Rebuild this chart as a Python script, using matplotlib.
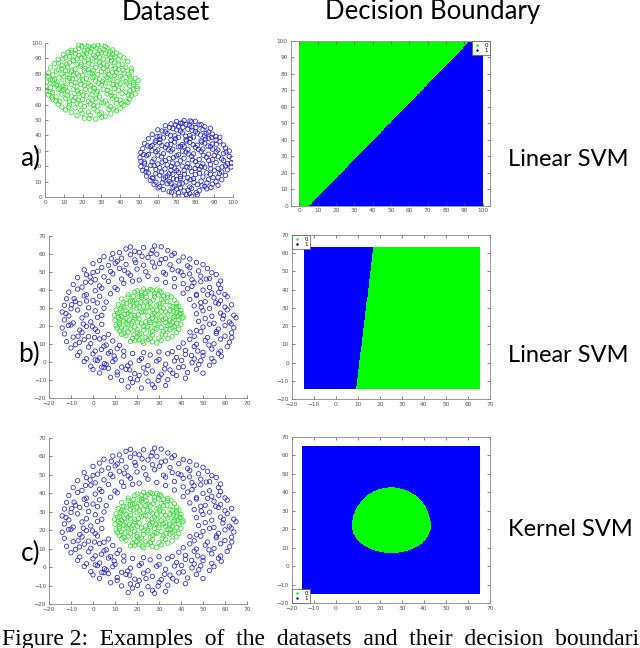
import numpy as np
import matplotlib
matplotlib.use("Agg")
import matplotlib.pyplot as plt
from matplotlib.colors import ListedColormap
from matplotlib.lines import Line2D

# ---------------- data ----------------
green_a = [
    (21,51.2),(27,50.6),(32,52.4),(17,52.8),(24,53.1),(29,53.6),(35,53.9),
    (11,56.5),(14,54.8),(19,56.1),(23,55.2),(26,57.3),(30,54.6),(34,56.8),(38,55.9),(40,57.6),(16,57.9),
    (7,60.2),(9,58.4),(13,59.7),(17,61.0),(21,58.8),(24,60.5),(28,59.1),(31,61.2),(35,58.6),(38,60.8),(42,59.5),(44,61.3),(19,59.9),
    (4,63.5),(8,62.1),(11,64.0),(15,62.6),(20,63.3),(23,62.0),(27,63.8),(32,62.4),(36,64.1),(40,62.9),(45,63.6),(13,61.8),(30,61.5),
    (2,66.2),(6,65.0),(9,66.8),(14,65.4),(18,67.0),(22,65.7),(25,66.5),(29,64.9),(33,66.9),(37,65.3),(41,67.1),(46,65.8),(48,66.9),(16,64.6),
    (1,69.1),(4,67.8),(7,69.8),(12,68.3),(15,69.6),(19,68.0),(24,69.4),(28,68.6),(31,70.0),(35,67.9),(39,69.3),(43,68.1),(47,69.7),(49,70.3),(10,70.0),
    (0.5,72.0),(3,71.0),(6,72.6),(11,71.3),(14,73.0),(17,71.6),(21,72.4),(26,71.0),(30,72.9),(34,71.5),(38,72.7),(41,70.8),(45,72.2),(49,71.8),(8,70.5),
    (1,74.6),(4,75.8),(9,74.0),(12,75.5),(16,74.3),(20,76.0),(23,73.8),(27,75.2),(32,74.1),(36,75.9),(40,73.5),(43,75.0),(47,74.4),(49.5,75.6),(6,73.4),
    (2,77.9),(5,76.4),(10,78.1),(13,76.9),(18,78.6),(22,77.0),(26,78.4),(29,76.6),(33,77.7),(37,79.0),(41,76.8),(45,78.2),(48,77.1),(15,79.3),
    (2,80.5),(6,81.7),(9,79.8),(14,81.2),(17,80.0),(21,81.9),(25,80.3),(30,81.5),(34,79.6),(38,81.0),(42,80.4),(46,81.8),(11,82.0),(28,79.4),
    (3,83.9),(7,82.6),(12,84.4),(16,83.0),(19,84.8),(23,82.8),(27,84.1),(31,83.3),(35,84.9),(39,82.7),(43,84.2),(46,83.5),
    (5,86.6),(9,85.4),(13,87.3),(17,86.0),(21,87.8),(25,85.9),(29,87.1),(33,85.6),(37,87.5),(41,86.2),(44,87.9),(15,88.3),
    (7,89.4),(11,90.6),(15,88.9),(19,90.2),(23,89.0),(27,91.0),(31,89.6),(35,90.8),(39,89.1),(42,90.3),(21,91.4),
    (10,92.5),(14,93.8),(18,92.0),(22,93.4),(26,92.2),(30,94.0),(34,92.7),(38,93.5),(40,91.8),
    (14,95.3),(18,96.6),(21,94.9),(25,96.2),(29,95.0),(33,96.8),(36,95.5),(24,97.2),
    (18,98.6),(21,99.4),(26,98.0),(30,99.2),(32,97.6),(23,97.8),
    (23.5,51.0),(30.2,51.8),(19.7,54.3),(27.8,55.9),(36.4,57.1),(12.6,58.2),(25.9,59.4),(33.1,60.1),(40.7,60.7),
    (5.8,62.4),(17.6,62.9),(25.4,63.1),(38.2,63.4),(43.1,62.2),(3.7,64.9),(11.8,66.1),(20.3,66.2),(27.4,67.5),
    (35.2,66.0),(44.3,66.4),(2.6,68.4),(9.1,68.9),(17.3,68.8),(21.6,69.9),(26.3,70.4),(33.2,69.1),(37.1,70.6),
    (45.2,69.0),(4.8,73.5),(9.6,72.1),(19.2,73.2),(24.1,72.6),(28.4,73.9),(36.3,73.1),(43.6,73.8),(47.2,72.9),
    (2.8,76.2),(7.4,77.3),(14.6,76.8),(18.5,75.4),(25.1,77.6),(30.7,75.0),(34.6,76.2),(38.4,74.9),(45.6,76.7),
    (4.2,79.3),(11.7,79.6),(20.0,79.1),(23.5,80.6),(31.9,78.8),(35.8,80.9),(40.1,78.2),(44.2,79.7),(8.9,83.3),
    (14.3,82.4),(21.3,83.5),(25.8,82.1),(29.4,85.2),(33.2,82.0),(37.4,83.6),(41.5,82.3),(7.2,86.9),(11.4,86.3),
    (19.3,86.2),(23.2,86.9),(27.3,88.4),(31.2,86.4),(35.4,88.6),(39.3,85.6),(9.5,89.7),(13.1,91.3),(17.2,89.7),
    (25.0,89.8),(29.1,90.7),(33.4,89.1),(37.3,91.1),(12.3,94.1),(16.1,93.0),(20.3,92.6),(24.1,94.2),(28.2,92.8),
    (32.2,93.3),(36.0,92.3),(16.2,95.4),(19.6,97.9),(27.5,96.7),(31.3,95.8),(34.8,94.3),(22.7,95.6),(28.3,98.6),
]

blue_a = [
    (69,1.2),(73,0.6),(77,2.1),(81,1.5),(71,2.8),(78,0.5),
    (63,4.8),(66,3.4),(70,5.2),(74,3.9),(78,5.6),(82,4.1),(86,5.3),(72,6.0),
    (58,8.2),(61,6.7),(65,8.6),(69,7.1),(73,8.9),(77,6.5),(81,8.0),(85,6.9),(89,8.4),(92,7.6),(67,9.0),
    (56,10.8),(59,9.6),(63,11.7),(66,10.1),(70,11.4),(75,9.8),(79,11.9),(83,10.3),(87,11.5),(91,9.9),(94,11.2),(72,12.0),
    (54,13.6),(57,12.4),(61,14.2),(64,12.9),(68,14.8),(72,13.3),(76,12.6),(80,14.5),(84,13.0),(88,14.7),(92,12.8),(96,14.0),(66,15.0),
    (52,17.2),(55,15.6),(59,17.8),(62,16.1),(67,17.5),(71,15.9),(74,17.1),(78,16.4),(82,17.9),(86,15.7),(90,17.3),(94,16.2),(97,17.6),
    (51,19.8),(54,18.5),(58,20.4),(61,19.0),(65,20.9),(69,18.7),(73,20.1),(77,18.9),(81,20.6),(85,19.3),(88,21.0),(92,18.6),(96,20.2),(99,19.5),
    (51,23.2),(53,21.6),(57,22.9),(60,21.4),(64,23.7),(68,22.1),(72,23.5),(76,21.8),(80,23.0),(84,21.5),(87,23.8),(91,22.4),(95,23.6),(99,22.0),
    (50.5,25.5),(54,26.8),(58,24.6),(62,26.1),(66,24.9),(70,26.7),(74,25.2),(78,26.4),(82,24.3),(86,25.8),(90,27.0),(94,24.7),(98,26.3),(99.5,25.0),
    (51,28.9),(55,27.6),(59,29.5),(63,28.1),(67,29.8),(71,27.4),(75,29.2),(79,28.0),(83,29.7),(87,27.8),(91,29.3),(95,28.2),(98,29.9),
    (52,31.4),(56,32.7),(60,30.6),(64,32.1),(68,31.0),(72,32.9),(76,30.8),(80,32.3),(84,31.1),(88,32.6),(92,30.5),(96,31.8),(74,33.0),
    (53,34.8),(57,33.5),(61,35.2),(65,33.9),(69,35.7),(73,34.1),(77,35.5),(81,33.6),(85,35.0),(89,34.4),(93,35.9),(95,33.8),
    (55,37.9),(59,36.6),(63,38.4),(67,36.9),(71,38.7),(75,37.2),(79,38.9),(83,36.5),(87,38.1),(91,37.0),(93,38.8),
    (57,40.6),(61,39.4),(65,41.2),(69,39.8),(73,41.7),(77,40.0),(81,41.5),(85,39.6),(89,40.9),(91,39.2),
    (60,43.6),(64,42.3),(68,44.4),(72,42.8),(76,44.0),(80,42.5),(84,43.8),(87,42.2),(88,44.6),
    (64,46.3),(67,47.5),(71,45.9),(75,47.2),(78,45.5),(82,46.8),(85,45.6),(73,48.0),
    (70,49.0),(74,49.6),(78,48.8),(80,49.2),
    (75.2,1.6),(67.3,3.1),(80.4,2.9),(76.1,4.4),(60.2,5.9),(68.1,6.2),(83.5,7.2),(88.3,6.1),(62.4,9.3),
    (71.6,8.4),(79.2,9.4),(86.1,9.1),(57.5,12.1),(68.3,11.8),(77.5,11.3),(89.4,12.6),(58.9,15.1),(65.1,13.6),
    (74.2,14.9),(82.2,15.5),(92.8,15.3),(53.7,16.4),(63.8,18.2),(70.1,17.2),(79.9,18.6),(88.2,18.3),(56.3,20.5),
    (67.2,19.8),(75.6,19.5),(83.3,19.6),(94.2,19.5),(52.8,22.7),(62.3,22.6),(70.3,21.5),(78.4,24.1),(89.2,24.4),
    (97.1,21.6),(52.4,27.6),(60.1,27.2),(68.4,25.6),(76.2,27.9),(84.2,27.1),(92.2,26.1),(56.9,30.1),(65.7,30.6),
    (73.1,29.8),(81.6,30.9),(89.1,31.1),(96.3,29.2),(54.6,33.2),(62.2,33.4),(70.9,32.5),(78.8,33.9),(86.7,33.1),
    (58.6,35.6),(66.9,34.2),(75.3,36.3),(83.4,35.7),(91.1,34.2),(61.2,37.4),(69.4,37.9),(77.3,38.1),(85.4,37.6),
    (59.6,39.2),(66.8,40.0),(74.9,39.5),(82.7,40.3),(88.6,38.7),(62.3,42.9),(70.1,43.5),(78.2,43.3),(85.7,41.2),
    (66.2,45.0),(73.4,45.3),(80.3,45.1),(69.4,46.9),(76.8,46.6),(83.1,47.0),(72.1,47.9),(77.2,49.4),
]

ring_b = [
    (16,-13.8),(22,-14.5),(27,-12.6),(33,-13.1),(18,-11.4),(28,-14.2),
    (8,-8.5),(13,-10.2),(17,-9.1),(21,-7.4),(25,-10.6),(30,-8.2),(34,-9.8),(38,-7.6),(42,-9.0),(11,-7.2),
    (0,-4.2),(3,-6.1),(7,-3.5),(11,-5.6),(15,-4.0),(19,-6.5),(23,-3.3),(27,-5.0),(31,-6.8),(35,-4.4),(39,-3.1),(43,-5.9),(47,-4.0),(50,-6.2),(5,-3.0),
    (-4,0.3),(-1,-2.4),(2,0.8),(6,-1.5),(9,0.2),(13,-2.8),(17,-0.6),(21,0.9),(25,-2.0),(29,0.5),(33,-1.2),(37,0.6),(41,-2.6),(45,-0.4),(49,0.7),(53,-1.8),(55,0.2),(4,-2.9),
    (-7,3.6),(-3,1.8),(0,4.5),(3,2.2),(7,4.9),(10,1.5),(14,3.3),(18,4.7),(22,2.0),(26,3.9),(30,1.4),(34,4.6),(38,2.5),(42,4.2),(46,1.7),(50,3.5),(54,2.0),(57,4.8),(1,1.2),
    (-10,7.8),(-6,5.5),(-2,8.3),(1,6.1),(5,8.8),(8,5.7),(11,7.4),(14,6.0),(36,5.8),(39,8.1),(42,6.4),(46,8.6),(50,5.4),(54,7.2),(58,6.0),(61,8.5),(23,5.2),(30,5.6),
    (-12,11.3),(-8,9.6),(-4,12.4),(-1,10.2),(3,12.8),(6,9.4),(9,11.7),(41,10.5),(44,12.6),(47,9.8),(51,11.9),(55,10.1),(58,12.7),(62,11.0),(12,9.2),
    (-13,15.6),(-9,13.8),(-5,16.4),(-2,14.1),(2,16.9),(5,13.5),(46,14.3),(49,16.8),(52,13.6),(56,15.9),(60,14.4),(63,16.2),(7,15.2),
    (-14,18.9),(-10,20.6),(-6,17.7),(-3,19.8),(1,18.2),(4,20.9),(47,17.5),(50,19.4),(53,21.0),(57,18.3),(60,20.2),(64,19.0),
    (-13,23.4),(-9,21.7),(-5,24.5),(-1,22.3),(2,24.8),(48,22.6),(51,24.1),(55,21.5),(59,23.9),(62,22.2),(65,24.6),
    (-14,27.8),(-11,25.6),(-7,28.9),(-3,26.2),(1,28.4),(4,25.9),(47,26.8),(50,28.5),(54,25.4),(58,27.1),(61,29.0),(64,26.0),
    (-13,31.5),(-10,29.6),(-6,32.4),(-2,30.1),(2,32.8),(5,29.9),(46,31.2),(49,33.0),(53,29.8),(57,32.3),(60,30.5),(63,31.8),
    (-12,35.1),(-8,33.6),(-4,36.8),(0,34.2),(3,36.5),(6,33.3),(44,34.8),(47,36.9),(51,33.5),(55,35.7),(58,34.0),(61,36.3),
    (-11,38.8),(-7,40.5),(-3,37.4),(1,39.6),(4,41.0),(8,37.9),(11,40.3),(41,38.2),(43,40.7),(47,37.6),(50,39.9),(54,38.4),(58,40.9),(60,37.5),
    (-9,43.1),(-5,41.6),(-1,44.4),(3,42.2),(7,44.8),(10,41.3),(14,43.7),(18,44.9),(33,44.2),(37,41.8),(41,43.5),(45,42.0),(49,44.6),(53,41.4),(57,43.2),(58,45.0),
    (-7,46.9),(-3,48.5),(1,45.7),(5,47.3),(9,49.0),(13,46.1),(17,48.2),(21,45.5),(25,47.6),(29,45.9),(33,48.8),(37,46.4),(41,48.1),(45,45.8),(49,47.7),(53,46.3),(56,48.6),
    (-4,51.2),(0,49.7),(4,52.5),(8,50.3),(12,52.0),(16,49.4),(20,51.6),(24,50.1),(28,52.8),(32,49.8),(36,51.3),(40,50.0),(44,52.4),(48,50.6),(52,51.9),(54,49.6),
    (0,54.6),(3,56.4),(7,53.7),(11,55.9),(15,54.2),(19,56.7),(23,53.8),(27,55.5),(31,56.9),(35,54.0),(39,56.1),(43,53.4),(47,55.3),(50,54.1),
    (5,58.5),(9,60.2),(13,57.7),(17,59.6),(21,60.9),(25,58.1),(29,59.9),(33,57.5),(37,60.4),(41,58.3),(44,57.2),(12,60.8),
    (15,62.8),(19,61.5),(23,63.6),(27,62.1),(31,64.0),(34,61.9),(17,63.9),(28,64.5),
    (-12.3,26.9),(-8.6,35.2),(-4.4,21.1),(0.7,13.6),(-6.2,10.9),(3.8,7.0),(9.6,3.3),(15.8,-2.1),(24.1,-6.2),
    (32.6,-3.9),(40.3,0.9),(47.6,6.1),(52.7,9.4),(56.1,16.9),(59.3,25.9),(55.8,32.9),(52.1,37.3),(45.9,44.1),
    (38.7,50.6),(30.2,54.7),(19.4,55.2),(10.1,54.9),(2.1,50.4),(-3.4,44.3),(-9.7,31.8),(-0.2,19.6),(44.1,16.6),
    (49.2,30.4),(35.9,59.3),(22.3,58.7),(8.3,57.4),(-1.3,47.2),(62.8,21.2),(57.2,38.8),(43.9,48.9),(26.4,60.3),
    (14.2,50.9),(-6.8,14.3),(5.2,-0.9),(20.2,-9.9),(36.3,-6.3),(48.1,-1.4),(58.3,3.2),(63.1,13.6),(-11.2,20.3),
    (-2.9,33.9),(16.7,-4.4),(29.6,-10.3),(44.8,3.6),(51.5,46.1),
]

disc_b = [
    (19,11.8),(23,10.4),(27,11.2),(31,12.1),(25,12.4),(21,12.3),
    (15,14.6),(18,13.0),(21,15.2),(24,13.7),(27,14.9),(30,13.3),(33,15.0),(36,14.2),(13,15.4),
    (12,17.3),(14,16.0),(17,18.1),(20,16.5),(23,17.8),(26,16.2),(29,18.3),(32,16.8),(35,17.9),(38,16.4),(39,18.2),(22,15.7),
    (10.5,20.1),(13,19.0),(16,20.8),(19,19.4),(22,21.2),(25,19.7),(28,21.0),(31,19.2),(34,20.5),(37,19.6),(40,20.9),(15,21.4),(30,21.4),
    (10,23.2),(12,22.0),(15,24.1),(18,22.6),(21,23.9),(24,22.3),(27,24.3),(30,22.8),(33,24.0),(36,22.1),(39,23.6),(40.5,24.4),(19,24.5),
    (9.8,26.0),(13,25.3),(16,27.1),(19,25.8),(22,27.4),(25,25.6),(28,27.0),(31,25.1),(34,26.7),(37,25.4),(40,26.9),(41,25.0),(12,27.5),
    (10.5,28.9),(14,30.1),(17,28.2),(20,29.6),(23,28.0),(26,30.3),(29,28.7),(32,30.0),(35,28.4),(38,29.8),(40,28.5),(21,30.4),
    (11.5,31.8),(14,33.0),(17,31.2),(20,32.7),(23,31.0),(26,33.2),(29,31.6),(32,33.4),(35,31.3),(38,32.6),(39,31.0),(24,33.4),
    (13,35.0),(16,36.1),(19,34.2),(22,35.8),(25,34.0),(28,36.3),(31,34.6),(34,35.9),(37,34.3),(35.5,36.2),(17,33.8),
    (16,37.4),(19,38.8),(22,37.0),(25,39.3),(28,37.8),(31,38.6),(34,37.2),(20,39.6),(27,39.9),
    (23,40.6),(26,40.3),(29,40.0),
    (17,11.5),(29,10.6),(20,13.9),(34,13.0),(16,16.8),(27,17.1),(36,18.9),(11,18.8),(14,22.7),(26,21.9),
    (35,23.3),(11.5,24.8),(17,26.2),(29,26.1),(38,27.6),(15,28.6),(27,29.2),(36,30.9),(18,33.9),(30,32.0),
    (21,36.4),(32,36.8),(24,38.3),(13,30.6),(33,21.9),(20,18.0),(24,27.9),(38,21.3),(12,20.9),(31,28.2),
    (22.4,11.4),(26.1,13.3),(18.6,15.2),(31.4,15.6),(14.4,18.4),(24.6,18.9),(33.2,18.1),(12.3,23.9),(17.4,21.2),
    (28.6,23.2),(36.4,24.7),(14.2,26.6),(20.6,26.3),(26.9,26.2),(33.1,27.8),(39.4,27.1),(12.6,29.6),(18.4,30.9),
    (24.8,30.6),(30.4,30.9),(36.6,28.1),(15.2,32.6),(21.5,33.1),(27.4,34.5),(33.6,33.7),(18.3,36.6),(24.2,36.1),
    (29.7,37.3),(22.1,38.9),(30.3,39.4),(20.2,22.1),(31.9,23.6),(25.7,23.1),(35.1,20.6),(16.6,23.3),(37.9,30.8),
    (28.1,18.7),(22.8,19.8),(38.2,25.2),(11.2,26.9),
]

# decision boundaries
line_a = [(5.4, 0.0), (93.0, 100.0)]      # boundary a): points (x, y)
line_b = [(9.2, -14.6), (17.1, 63.6)]     # boundary b)
region_a = (0, 100, 0, 99)                 # xmin, xmax, ymin, ymax of coloured area
region_b = (-14.3, 65.5, -14.6, 63.6)
region_c = (-15.2, 65.6, -14.8, 64.8)
ellipse_c = dict(cx=25.25, cy=21.7, rx=17.85, ry_up=21.0, ry_down=14.6)

ticks_a = list(range(0, 101, 10))
ticks_b = list(range(-20, 71, 10))

GREEN = '#00ff00'
BLUE = '#0000ff'
PT_GREEN = '#33dd33'
PT_BLUE = '#2222cc'

W, H = 640, 648
fig = plt.figure(figsize=(W / 100, H / 100), dpi=100)
fig.patch.set_facecolor('white')

def pos(x0, x1, ytop, ybot):
    return [x0 / W, 1 - ybot / H, (x1 - x0) / W, (ybot - ytop) / H]

def style(ax, box):
    ax.tick_params(direction='in', length=2, width=0.5, labelsize=4.2,
                   colors='#555555', pad=2, top=box, right=box)
    for s in ax.spines.values():
        s.set_linewidth(0.6)
        s.set_color('#888888')
    if not box:
        ax.spines['top'].set_visible(False)
        ax.spines['right'].set_visible(False)

def scatter(ax, pts, color):
    p = np.array(pts)
    ax.scatter(p[:, 0], p[:, 1], s=10, facecolors='none', edgecolors=color,
               linewidths=0.55)

def fill_grid(ax, region, fn):
    x0, x1, y0, y1 = region
    xs = np.linspace(x0, x1, 500)
    ys = np.linspace(y0, y1, 500)
    X, Y = np.meshgrid(xs, ys)
    Z = fn(X, Y).astype(float)
    ax.pcolormesh(X, Y, Z, cmap=ListedColormap([GREEN, BLUE]), vmin=0, vmax=1,
                  shading='auto', rasterized=True)

def line_side(line):
    (xa, ya), (xb, yb) = line
    def f(X, Y):
        xl = xa + (Y - ya) * (xb - xa) / (yb - ya)
        return X > xl
    return f

def legend(ax, loc):
    h = [Line2D([], [], marker='.', ls='none', color=GREEN, ms=1.5),
         Line2D([], [], marker='.', ls='none', color='#000088', ms=1.5)]
    lg = ax.legend(h, ['0', '1'], loc=loc, fontsize=4, handlelength=1.2,
                   borderpad=0.3, labelspacing=0.1, borderaxespad=0.0,
                   fancybox=False, framealpha=1, edgecolor='#555555')
    lg.get_frame().set_linewidth(0.5)

# a) left
ax = fig.add_axes(pos(45, 233, 43, 197))
scatter(ax, green_a, PT_GREEN)
scatter(ax, blue_a, PT_BLUE)
ax.set_xlim(0, 100); ax.set_ylim(0, 100)
ax.set_xticks(ticks_a); ax.set_yticks(ticks_a)
style(ax, False)

# a) right
ax = fig.add_axes(pos(290.7, 490, 41, 205.7))
fill_grid(ax, region_a, line_side(line_a))
ax.set_xlim(-4.7, 104); ax.set_ylim(0, 100)
ax.set_xticks(ticks_a); ax.set_yticks(ticks_a)
style(ax, True)
legend(ax, 'upper right')

# b) left
ax = fig.add_axes(pos(49, 247, 236, 398))
scatter(ax, ring_b, PT_BLUE)
scatter(ax, disc_b, PT_GREEN)
ax.set_xlim(-20, 70); ax.set_ylim(-20, 70)
ax.set_xticks(ticks_b); ax.set_yticks(ticks_b)
style(ax, False)

# b) right
ax = fig.add_axes(pos(291.7, 490, 235, 399))
f_b = line_side(line_b)
fill_grid(ax, region_b, lambda X, Y: ~f_b(X, Y))
ax.set_xlim(-20, 70); ax.set_ylim(-20, 70)
ax.set_xticks(ticks_b); ax.set_yticks(ticks_b)
style(ax, True)
legend(ax, 'upper left')

# c) left
ax = fig.add_axes(pos(49, 247, 438, 604))
scatter(ax, ring_b, PT_BLUE)
scatter(ax, disc_b, PT_GREEN)
ax.set_xlim(-20, 70); ax.set_ylim(-20, 70)
ax.set_xticks(ticks_b); ax.set_yticks(ticks_b)
style(ax, False)

# c) right
ax = fig.add_axes(pos(291.7, 490, 437, 603))
e = ellipse_c
def f_c(X, Y):
    ry = np.where(Y > e['cy'], e['ry_up'], e['ry_down'])
    return ((X - e['cx']) / e['rx']) ** 2 + ((Y - e['cy']) / ry) ** 2 > 1
fill_grid(ax, region_c, f_c)
ax.set_xlim(-20, 70); ax.set_ylim(-20, 70)
ax.set_xticks(ticks_b); ax.set_yticks(ticks_b)
style(ax, True)
legend(ax, 'lower left')

# texts
tf = ['Lato', 'DejaVu Sans']
fig.text(166 / W, 1 - 12 / H, 'Dataset', family=tf, fontsize=18.5, ha='center', va='center')
fig.text(433 / W, 1 - 12 / H, 'Decision Boundary', family=tf, fontsize=18.5, ha='center', va='center')
for lab, y in [('a)', 158), ('b)', 354), ('c)', 553)]:
    fig.text(40 / W, 1 - y / H, lab, family=tf, fontsize=19, ha='right', va='center')
for lab, y in [('Linear SVM', 160), ('Linear SVM', 356), ('Kernel SVM', 530)]:
    fig.text(508 / W, 1 - y / H, lab, family=tf, fontsize=17, ha='left', va='center')
fig.text(2 / W, 1 - 645 / H, 'Figure 2:  Examples  of  the  datasets  and  their  decision  boundaries',
         family=['Liberation Serif'], fontsize=17, ha='left', va='baseline')

fig.savefig('out.png', dpi=100)
